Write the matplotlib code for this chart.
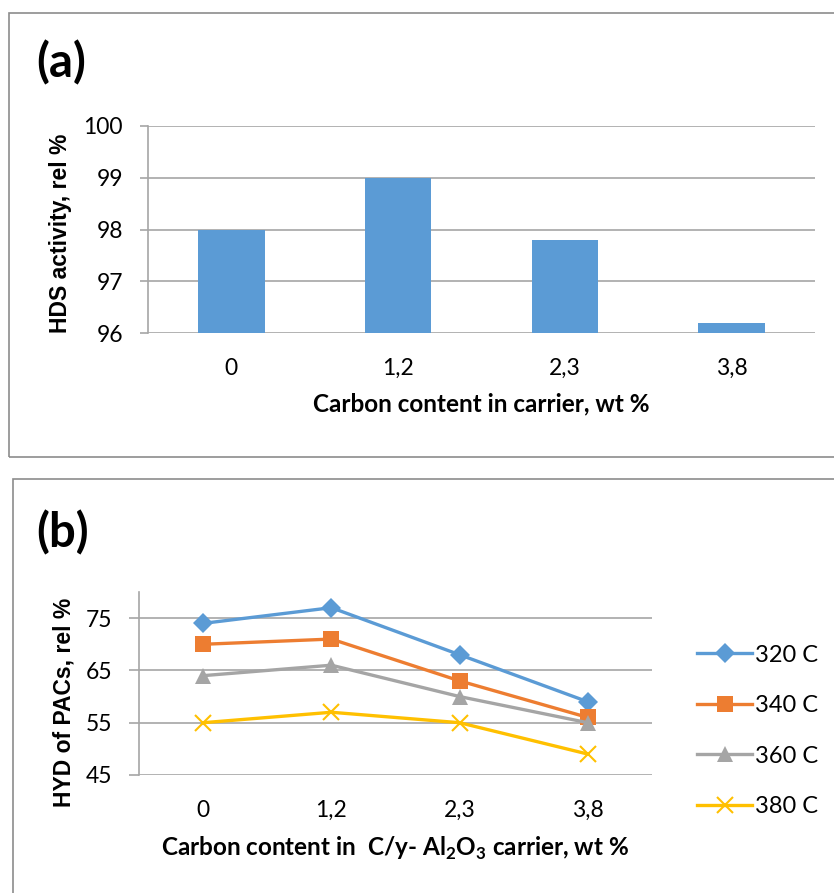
import matplotlib
matplotlib.use("Agg")
import matplotlib.pyplot as plt
from matplotlib.patches import Rectangle
import numpy as np

# ---- data ----
categories = ["0", "1,2", "2,3", "3,8"]
hds_activity = [98.0, 99.0, 97.8, 96.2]

series_labels = ["320 C", "340 C", "360 C", "380 C"]
hyd_320 = [74, 77, 68, 59]
hyd_340 = [70, 71, 63, 56]
hyd_360 = [64, 66, 60, 55]
hyd_380 = [55, 57, 55, 49]

plt.rcParams['font.family'] = ['Lato', 'DejaVu Sans']
plt.rcParams['mathtext.fontset'] = 'custom'
plt.rcParams['mathtext.rm'] = 'Lato'
plt.rcParams['mathtext.bf'] = 'Lato:bold'

W, H = 834, 893
fig = plt.figure(figsize=(W / 100, H / 100), dpi=100)

def fx(px):
    return px / W

def fy(py):
    return 1 - py / H

border_col = "#8c8c8c"
grid_col = "#a6a6a6"

# panel borders
fig.patches.append(Rectangle((fx(9), fy(457)), fx(834 - 9) + 0.01, fy(13) - fy(457),
                             transform=fig.transFigure, fill=False, ec=border_col, lw=1.2))
fig.patches.append(Rectangle((fx(13), fy(893) - 0.01), fx(834 - 13) + 0.01, fy(479) - fy(893) + 0.01,
                             transform=fig.transFigure, fill=False, ec=border_col, lw=1.2))

tick_fs = 16.5

# ---- panel (a) ----
ax1 = fig.add_axes([fx(148), fy(333), fx(815 - 148), fy(126) - fy(333)])
x = np.arange(len(categories))
ax1.bar(x, [v - 96 for v in hds_activity], bottom=96, width=0.4, color="#5B9BD5", zorder=3)
ax1.set_xlim(-0.5, 3.5)
ax1.set_ylim(96, 100)
ax1.set_yticks([96, 97, 98, 99, 100])
ax1.set_yticklabels(["96", "97", "98", "99", "100"])
ax1.set_xticks(x)
ax1.set_xticklabels(categories)
ax1.grid(axis="y", color=grid_col, lw=1.2, zorder=0)
for s in ["top", "right", "bottom"]:
    ax1.spines[s].set_visible(False)
ax1.spines["left"].set_color(grid_col)
ax1.spines["left"].set_linewidth(1.2)
ax1.tick_params(axis="y", length=6, width=1.2, color=grid_col, pad=12, labelsize=tick_fs)
ax1.tick_params(axis="x", length=0, pad=18, labelsize=tick_fs)
ax1.set_xlabel("Carbon content in carrier, wt %", fontsize=17.5, fontweight="bold", labelpad=10)
fig.text(fx(61), fy(233), "HDS activity, rel %", rotation=90, ha="center", va="center",
         fontsize=16.5, fontweight="bold", family="Liberation Sans")
fig.text(fx(36), fy(63), "(a)", fontsize=34, fontweight="bold", ha="left", va="center")

# ---- panel (b) ----
ax2 = fig.add_axes([fx(139), fy(775), fx(652 - 139), fy(592) - fy(775)])
colors = ["#5B9BD5", "#ED7D31", "#A5A5A5", "#FFC000"]
markers = ["D", "s", "^", "x"]
msizes = [10, 11, 11, 11]
series = [hyd_320, hyd_340, hyd_360, hyd_380]
for vals, c, m, ms, lab in zip(series, colors, markers, msizes, series_labels):
    ax2.plot(x, vals, color=c, lw=2.4, marker=m, ms=ms, mew=1.5 if m == "x" else 0,
             mec=c, mfc=c, label=lab, zorder=3)
ax2.set_xlim(-0.5, 3.5)
ax2.set_ylim(45, 80)
ax2.set_yticks([45, 55, 65, 75])
ax2.set_xticks(x)
ax2.set_xticklabels(categories)
ax2.grid(axis="y", color=grid_col, lw=1.2, zorder=0)
for s in ["top", "right", "bottom"]:
    ax2.spines[s].set_visible(False)
ax2.spines["left"].set_color(grid_col)
ax2.spines["left"].set_linewidth(1.2)
ax2.tick_params(axis="y", length=7, width=1.2, color=grid_col, pad=12, labelsize=tick_fs)
ax2.tick_params(axis="x", length=0, pad=18, labelsize=tick_fs)
ax2.set_xlabel(r"Carbon content in  C/y- Al$_\mathbf{2}$O$_\mathbf{3}$ carrier, wt %",
               fontsize=17.5, fontweight="bold", labelpad=10)
fig.text(fx(64), fy(702), "HYD of PACs, rel %", rotation=90, ha="center", va="center",
         fontsize=16.5, fontweight="bold", family="Liberation Sans")
fig.text(fx(36), fy(533), "(b)", fontsize=34, fontweight="bold", ha="left", va="center")

leg = ax2.legend(loc="center left", bbox_to_anchor=(fx(688), fy(731)), bbox_transform=fig.transFigure,
                 frameon=False, fontsize=17, handlelength=2.3, handletextpad=0.15,
                 labelspacing=1.25, borderaxespad=0)

fig.savefig("out.png", dpi=100)
